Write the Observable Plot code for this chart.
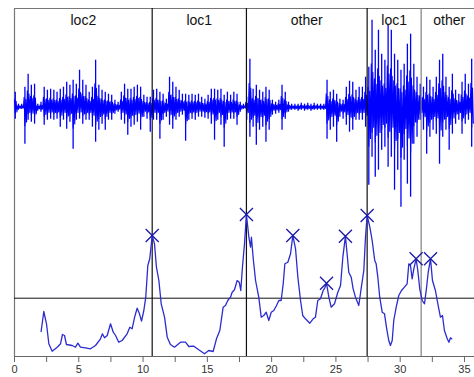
<!DOCTYPE html>
<html><head><meta charset="utf-8">
<script src="https://cdn.jsdelivr.net/npm/d3@7"></script>
<script src="https://cdn.jsdelivr.net/npm/@observablehq/plot@0.6"></script>
<style>body{margin:0;background:#fff} svg{display:block}</style>
</head><body><div id="chart"></div>
<script>
// Waveform: per 0.25 s bin, upper and lower extent (normalized amplitude)
const waveStep = 0.25;
const waveHi = [0.15,0.03,0.03,0.20,0.33,0.22,0.23,0.03,0.05,0.20,
0.17,0.18,0.17,0.15,0.18,0.20,0.25,0.22,0.27,0.23,
0.37,0.27,0.22,0.15,0.20,0.47,0.22,0.17,0.15,0.13,
0.12,0.07,0.05,0.15,0.23,0.18,0.18,0.20,0.22,0.20,
0.12,0.10,0.10,0.17,0.18,0.15,0.13,0.08,0.30,0.25,
0.20,0.17,0.13,0.13,0.12,0.13,0.12,0.13,0.10,0.08,
0.12,0.18,0.18,0.17,0.18,0.12,0.15,0.12,0.15,0.13,
0.05,0.03,0.10,0.48,0.18,0.22,0.17,0.15,0.20,0.17,
0.07,0.05,0.07,0.22,0.15,0.05,0.03,0.03,0.03,0.04,
0.03,0.04,0.03,0.04,0.03,0.03,0.03,0.27,0.15,0.17,
0.13,0.08,0.07,0.20,0.26,0.25,0.17,0.20,0.20,0.30,
0.40,0.87,0.57,0.77,0.53,0.47,0.83,0.77,0.53,0.47,
0.37,0.43,0.63,0.73,0.43,0.30,0.23,0.20,0.30,0.27,
0.20,0.30,0.47,0.53,0.30,0.20,0.33,0.17,0.13,0.25,
0.33,0.23,0.48];
const waveLo = [-0.12,-0.03,-0.02,-0.37,-0.13,-0.15,-0.17,-0.04,-0.05,-0.18,
-0.13,-0.12,-0.13,-0.12,-0.20,-0.13,-0.22,-0.15,-0.42,-0.13,
-0.12,-0.17,-0.13,-0.13,-0.20,-0.35,-0.23,-0.17,-0.23,-0.13,
-0.13,-0.07,-0.05,-0.13,-0.17,-0.28,-0.20,-0.18,-0.15,-0.23,
-0.10,-0.12,-0.25,-0.13,-0.13,-0.32,-0.13,-0.10,-0.18,-0.22,
-0.13,-0.10,-0.08,-0.34,-0.13,-0.12,-0.13,-0.10,-0.10,-0.11,
-0.12,-0.17,-0.33,-0.13,-0.18,-0.40,-0.13,-0.12,-0.12,-0.18,
-0.05,-0.02,-0.13,-0.30,-0.20,-0.38,-0.23,-0.20,-0.35,-0.23,
-0.08,-0.07,-0.06,-0.23,-0.12,-0.05,-0.03,-0.03,-0.04,-0.03,
-0.04,-0.03,-0.04,-0.03,-0.03,-0.03,-0.03,-0.32,-0.23,-0.20,
-0.35,-0.10,-0.12,-0.18,-0.25,-0.23,-0.13,-0.13,-0.13,-0.20,
-0.78,-0.50,-0.70,-0.63,-0.43,-0.40,-0.60,-0.50,-0.83,-0.63,
-1.00,-0.53,-0.77,-0.90,-0.37,-0.30,-0.13,-0.23,-0.47,-0.30,
-0.23,-0.27,-0.57,-0.30,-0.23,-0.43,-0.27,-0.17,-0.13,-0.27,
-0.17,-0.13,-0.40];

// Envelope (feature curve) samples
const envT = [2.07,2.28,2.49,2.67,2.93,3.32,3.58,3.73,3.89,4.04,
4.49,4.74,4.93,5.13,5.52,5.91,6.30,6.69,6.84,7.00,
7.21,7.47,7.68,7.86,8.11,8.37,8.76,8.97,9.15,9.33,
9.54,9.72,9.88,10.06,10.21,10.37,10.52,10.71,10.89,11.04,
11.23,11.41,11.67,11.88,12.13,12.44,12.91,13.30,13.56,13.95,
14.33,14.78,15.11,15.45,15.71,15.97,16.23,16.41,16.59,16.80,
16.93,17.11,17.32,17.48,17.60,17.73,17.89,18.04,18.23,18.36,
18.43,18.57,18.75,19.00,19.19,19.39,19.58,19.78,19.97,20.17,
20.38,20.56,20.74,20.90,21.03,21.26,21.47,21.65,21.86,22.04,
22.25,22.42,22.63,22.97,23.23,23.41,23.59,23.80,24.01,24.14,
24.27,24.45,24.63,24.89,25.15,25.36,25.54,25.74,25.87,26.00,
26.19,26.34,26.52,26.78,26.96,27.17,27.30,27.43,27.64,27.82,
28.02,28.13,28.26,28.41,28.60,28.78,28.93,29.11,29.24,29.38,
29.50,29.69,29.89,30.10,30.28,30.54,30.67,30.80,30.93,31.06,
31.24,31.37,31.52,31.71,31.89,32.04,32.18,32.36,32.51,32.74,
32.93,33.13,33.29,33.44,33.66,33.79,33.91,34.01];
const envV = [2.5,4.5,3.27,1.27,0.53,0.93,1.27,2.2,2.1,1.2,
1.1,0.93,1.33,0.93,0.87,0.77,1.1,1.77,2.27,1.87,
2.1,3.27,2.43,2.1,1.43,1.6,2.27,2.93,2.77,3.87,
4.83,4.27,3.53,4.6,5.93,9.1,9.77,12.1,11.27,8.93,
7.6,5.27,3.93,1.93,1.2,0.93,1.43,1.43,1.0,1.03,
0.67,0.27,0.6,0.5,1.77,2.6,4.93,5.1,5.6,5.93,
6.43,6.67,7.6,7.43,6.6,8.93,11.27,14.2,11.93,10.93,
11.93,9.77,7.6,5.93,3.93,4.1,4.43,3.6,4.43,4.6,
5.1,5.6,5.6,7.27,9.27,9.43,10.27,12.1,10.77,7.93,
5.6,4.1,3.77,3.33,3.77,3.93,5.6,5.77,6.6,6.87,
7.33,5.93,4.93,5.27,6.43,7.1,9.93,12.03,10.27,8.43,
7.93,6.77,5.93,5.1,6.77,8.6,11.93,14.1,12.93,11.6,
9.6,9.27,7.93,5.93,4.43,4.27,2.93,1.6,1.1,1.6,
3.6,4.93,6.1,6.6,6.87,7.27,9.27,9.1,7.77,8.77,
9.77,8.6,6.77,5.6,5.27,6.77,8.43,9.77,7.6,6.6,
5.27,3.93,4.1,2.6,1.77,1.43,1.87,1.77];

// Detected peaks
const peakT = [10.71, 18.04, 21.65, 24.27, 25.74, 27.43, 31.24, 32.36];
const peakV = [12.1, 14.2, 12.1, 7.33, 12.03, 14.1, 9.77, 9.77];

const threshold = 5.83;
const waveCenter = 24.93;
const waveGain = 10;
const coreShare = 0.5;

// Segments
const boundaries = [0, 10.71, 18.04, 27.43, 31.63, 36.0];
const segmentLabels = ["loc2", "loc1", "other", "loc1", "other"];

const tickValues = [0, 2.5, 5, 7.5, 10, 12.5, 15, 17.5, 20, 22.5, 25, 27.5, 30, 32.5, 35];
const labeledTicks = [0, 5, 10, 15, 20, 25, 30, 35];

// Build tables
const waveBins = waveHi.map((h, i) => ({
  t: i * waveStep + 0.06,
  hi: waveCenter + h * waveGain,
  lo: waveCenter + waveLo[i] * waveGain
}));
const corePts = [];
waveHi.forEach((h, i) => {
  corePts.push({t: i * waveStep + 0.0, y: waveCenter + h * coreShare * waveGain});
  corePts.push({t: i * waveStep + 0.0625, y: waveCenter + waveLo[i] * coreShare * waveGain});
  corePts.push({t: i * waveStep + 0.125, y: waveCenter + h * coreShare * 0.8 * waveGain});
  corePts.push({t: i * waveStep + 0.1875, y: waveCenter + waveLo[i] * coreShare * 0.8 * waveGain});
});
const env = envT.map((t, i) => ({t, v: envV[i]}));
const peaks = peakT.map((t, i) => ({t, v: peakV[i]}));
const segLines = boundaries.slice(1, 5).map((b, i) => ({t: b, gray: i === 3}));
const segText = segmentLabels.map((s, i) => ({t: (boundaries[i] + boundaries[i + 1]) / 2, s}));

const chart = Plot.plot({
  width: 474, height: 377,
  marginLeft: 14, marginRight: 0, marginTop: 8, marginBottom: 21,
  style: {fontFamily: "'Liberation Sans', Arial, sans-serif", background: "#fff"},
  x: {domain: [0, 35.78], label: null},
  y: {domain: [0, 34.8], axis: null},
  marks: [
    Plot.ruleY([34.8], {stroke: "#777", strokeWidth: 1}),
    Plot.ruleX([0], {stroke: "#777", strokeWidth: 1.2}),
    Plot.ruleY([0], {stroke: "#666", strokeWidth: 1}),
    Plot.ruleX(waveBins, {x: "t", y1: "lo", y2: "hi", stroke: "#0000ff", strokeWidth: 1.3}),
    Plot.line(corePts, {x: "t", y: "y", stroke: "#0000ff", strokeWidth: 1.1}),
    Plot.ruleY([threshold], {stroke: "#111", strokeWidth: 1}),
    Plot.ruleX(segLines, {x: "t", stroke: d => d.gray ? "#808080" : "#111", strokeWidth: 1.2}),
    Plot.line(env, {x: "t", y: "v", stroke: "#2b2bd0", strokeWidth: 1.3}),
    Plot.dot(peaks, {x: "t", y: "v", symbol: "times", r: 6, stroke: "#1a1aa8", strokeWidth: 1.3}),
    Plot.text(segText, {x: "t", y: 34.8, text: "s", dy: 12, fontSize: 14, fill: "#111"}),
    Plot.axisX({ticks: tickValues, tickSize: 6, tickPadding: 3, stroke: "#666", label: null,
      tickFormat: d => labeledTicks.includes(d) ? String(d) : "", fontSize: 11, fill: "#333"})
  ]
});
document.getElementById("chart").appendChild(chart);
</script>
</body></html>
